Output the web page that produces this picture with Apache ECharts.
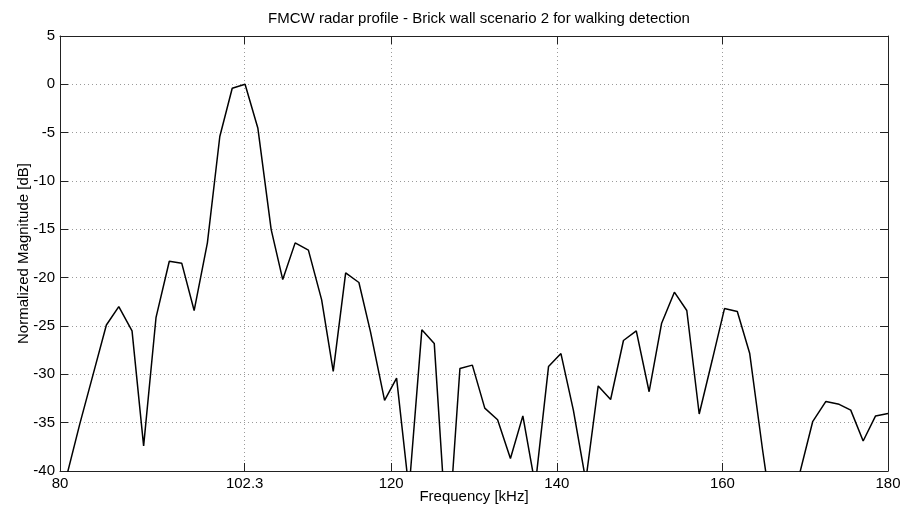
<!DOCTYPE html>
<html>
<head>
<meta charset="utf-8">
<script src="https://cdn.jsdelivr.net/npm/echarts@6/dist/echarts.min.js"></script>
<style>
html,body{margin:0;padding:0;background:#fff;}
#chart{width:903px;height:507px;}
</style>
</head>
<body>
<div id="chart"></div>
<script>
const titleText = 'FMCW radar profile - Brick wall scenario 2 for walking detection';
const xName = 'Frequency [kHz]';
const yName = 'Normalized Magnitude [dB]';
const xTicks = [80, 102.3, 120, 140, 160, 180];
const freqKHz = [80.9, 82.4, 84.0, 85.6, 87.1, 88.7, 90.1, 91.6, 93.2, 94.7, 96.2, 97.8, 99.3, 100.8, 102.35, 103.9, 105.5, 106.9, 108.4, 110.0, 111.6, 113.0, 114.5, 116.1, 117.5, 119.2, 120.65, 122.15, 123.7, 125.2, 126.8, 128.3, 129.8, 131.3, 132.85, 134.4, 135.9, 137.4, 139.0, 140.5, 142.0, 143.5, 145.0, 146.5, 148.05, 149.6, 151.15, 152.65, 154.2, 155.7, 157.2, 158.75, 160.25, 161.8, 163.3, 164.85, 166.4, 167.9, 169.35, 170.9, 172.5, 174.1, 175.5, 177.0, 178.5, 180.0];
const magnitudeDb = [-40.2, -35.1, -30.0, -24.9, -23.0, -25.5, -37.4, -24.1, -18.3, -18.5, -23.4, -16.4, -5.4, -0.4, 0.0, -4.55, -15.0, -20.2, -16.4, -17.15, -22.3, -29.7, -19.5, -20.5, -25.6, -32.7, -30.4, -42, -25.4, -26.8, -48, -29.4, -29.05, -33.5, -34.7, -38.7, -34.3, -41.5, -29.2, -27.85, -33.7, -41.0, -31.2, -32.6, -26.5, -25.5, -31.8, -24.75, -21.5, -23.4, -34.1, -28.6, -23.2, -23.5, -27.85, -37.8, -47, -50, -40.2, -34.9, -32.8, -33.1, -33.7, -36.9, -34.3, -34.05];

const FONT = "'Liberation Sans', Arial, sans-serif";
const gridDot = {color: '#9a9a9a', width: 1, type: [1, 3]};
const axisLine = {show: true, onZero: false, lineStyle: {color: '#222', width: 1}};

const chart = echarts.init(document.getElementById('chart'), null, {renderer: 'canvas'});
chart.setOption({
  animation: false,
  backgroundColor: '#fff',
  title: {
    text: titleText, left: 474, textAlign: 'center', top: 6,
    textStyle: {fontFamily: FONT, fontSize: 15, fontWeight: 'normal', color: '#000'}
  },
  grid: {left: 60, right: 15, top: 36, bottom: 36, containLabel: false, outerBoundsMode: 'none'},
  xAxis: [{
    type: 'value', position: 'bottom', min: 80, max: 180,
    name: xName, nameLocation: 'middle', nameGap: 18, nameMoveOverlap: false,
    nameTextStyle: {fontFamily: FONT, fontSize: 15, color: '#000'},
    axisLine: axisLine,
    axisTick: {show: true, inside: true, length: 8, customValues: xTicks, lineStyle: {color: '#222'}},
    axisLabel: {customValues: xTicks, fontFamily: FONT, fontSize: 15, color: '#000', margin: 5,
      formatter: v => String(v)},
    splitLine: {show: true, lineStyle: gridDot}
  }, {
    type: 'value', position: 'top', min: 80, max: 180,
    axisLine: axisLine,
    axisTick: {show: true, inside: true, length: 8, customValues: xTicks, lineStyle: {color: '#222'}},
    axisLabel: {show: false},
    splitLine: {show: false}
  }],
  yAxis: [{
    type: 'value', position: 'left', min: -40, max: 5, interval: 5,
    name: yName, nameLocation: 'middle', nameGap: 29, nameMoveOverlap: false,
    nameTextStyle: {fontFamily: FONT, fontSize: 15, color: '#000'},
    axisLine: axisLine,
    axisTick: {show: true, inside: true, length: 8, lineStyle: {color: '#222'}},
    axisLabel: {fontFamily: FONT, fontSize: 15, color: '#000', margin: 5},
    splitLine: {show: true, lineStyle: gridDot}
  }, {
    type: 'value', position: 'right', min: -40, max: 5, interval: 5,
    axisLine: axisLine,
    axisTick: {show: true, inside: true, length: 8, lineStyle: {color: '#222'}},
    axisLabel: {show: false},
    splitLine: {show: false}
  }],
  series: [{
    type: 'line', xAxisIndex: 0, yAxisIndex: 0,
    data: freqKHz.map((f, i) => [f, magnitudeDb[i]]),
    showSymbol: false, symbol: 'none', clip: true,
    lineStyle: {color: '#000', width: 1.5},
    silent: true
  }]
});
</script>
</body>
</html>
